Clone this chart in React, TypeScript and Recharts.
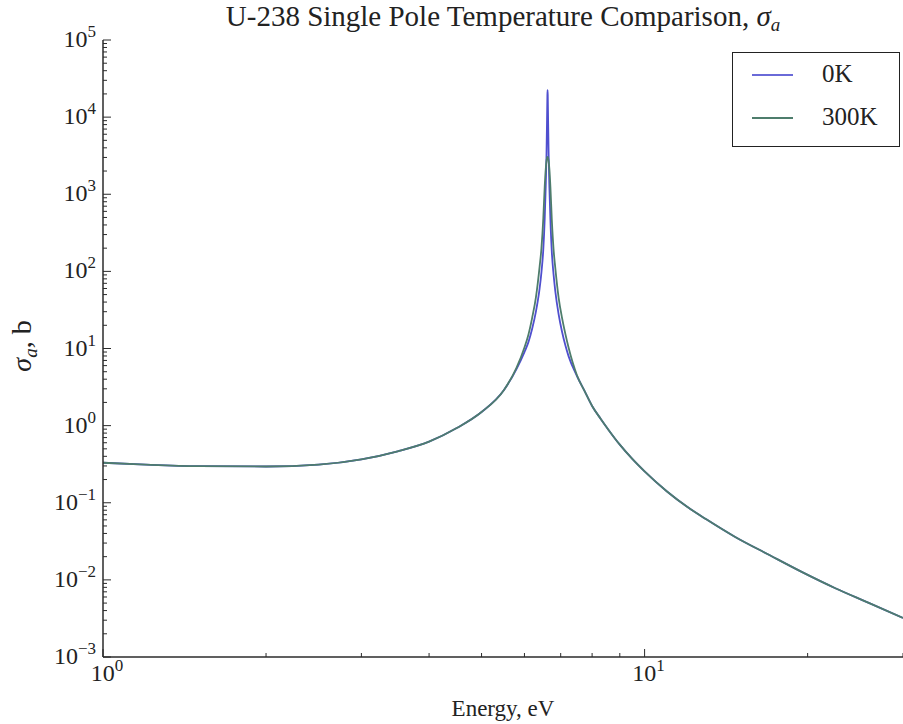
import React from 'react';
import { LineChart, Line, XAxis, YAxis } from 'recharts';

// energy grid, eV
const energy = [
  1.0, 1.2, 1.5, 2.0, 2.5, 3.0, 3.5, 4.0, 4.5, 5.0, 5.5, 5.8, 6.0, 6.1, 6.2, 6.3, 6.4, 6.45, 6.5, 6.54,
  6.57, 6.59, 6.605, 6.615, 6.62, 6.625, 6.635, 6.65, 6.67, 6.7, 6.74, 6.79, 6.84, 6.94, 7.04, 7.14, 7.24,
  7.5, 7.75, 8.0, 8.3, 8.6, 9.0, 9.5, 10, 11, 12, 13, 14.7, 17, 19.5, 22.5, 26, 30,
];

// sigma_a at 0K, barns
const sigma0K = [
  0.33, 0.312, 0.298, 0.295, 0.312, 0.365, 0.465, 0.62, 0.93, 1.5, 2.9, 5.4, 9.0, 12, 18, 30, 60, 98, 190, 480,
  1340, 3350, 9220, 19350, 22400, 19300, 9150, 3290, 1300, 470, 180, 92, 56, 27.5, 16.5, 11, 7.9,
  4.4, 2.8, 1.8, 1.22, 0.86, 0.566, 0.367, 0.255, 0.14, 0.088, 0.061, 0.036, 0.021, 0.0127, 0.0078, 0.005, 0.0032,
];

// sigma_a at 300K, barns
const sigma300K = [
  0.33, 0.312, 0.298, 0.295, 0.312, 0.365, 0.465, 0.62, 0.93, 1.5, 2.9, 5.6, 10.3, 15, 25, 46, 115, 200, 480, 1260,
  2160, 2700, 2950, 3040, 3050, 3040, 2950, 2690, 2150, 1250, 470, 195, 112, 45, 25, 15.5, 10.2,
  4.5, 2.8, 1.8, 1.22, 0.86, 0.566, 0.367, 0.255, 0.14, 0.088, 0.061, 0.036, 0.021, 0.0127, 0.0078, 0.005, 0.0032,
];

const xTicks = [1, 2, 3, 4, 5, 6, 7, 8, 9, 10, 20, 30];
const yDecades = [1e-3, 1e-2, 1e-1, 1, 10, 100, 1e3, 1e4, 1e5];
const yMinor = [2, 3, 4, 5, 6, 7, 8, 9];

const legendItems = [
  { name: '0K', color: '#6a6ad8' },
  { name: '300K', color: '#4e7d6c' },
];

const data = energy.map((e, i) => ({ e, k0: sigma0K[i], k300: sigma300K[i] }));
const yTicks = yDecades.flatMap((d, i) => (i < yDecades.length - 1 ? [d, ...yMinor.map((m) => d * m)] : [d]));

const FONT = '"Liberation Serif", serif';
const AXIS = '#2b2b2b';

const isMajor = (v: number) => Math.abs(Math.log10(v) - Math.round(Math.log10(v))) < 1e-6;
const expOf = (v: number) => {
  const n = Math.round(Math.log10(v));
  return n < 0 ? '\u2212' + Math.abs(n) : String(n);
};

const BottomTick = (props: any) => {
  const { x, y, payload } = props;
  const major = isMajor(payload.value);
  return (
    <g>
      <line x1={x} x2={x} y1={y} y2={y - (major ? 8 : 4)} stroke={AXIS} strokeWidth={1} />
      {major && (
        <text x={x + 4} y={y + 24} textAnchor="middle" fontFamily={FONT} fontSize={24} fill="#222">
          10<tspan dy={-10} fontSize={17}>{expOf(payload.value)}</tspan>
        </text>
      )}
    </g>
  );
};

const TopTick = (props: any) => {
  const { x, y, payload } = props;
  const major = isMajor(payload.value);
  return <line x1={x} x2={x} y1={y} y2={y + (major ? 8 : 4)} stroke={AXIS} strokeWidth={1} />;
};

const LeftTick = (props: any) => {
  const { x, y, payload } = props;
  const major = isMajor(payload.value);
  return (
    <g>
      <line x1={x} x2={x + (major ? 8 : 4)} y1={y} y2={y} stroke={AXIS} strokeWidth={1} />
      {major && (
        <text x={x - 7} y={y + 7} textAnchor="end" fontFamily={FONT} fontSize={24} fill="#222">
          10<tspan dy={-10} fontSize={17}>{expOf(payload.value)}</tspan>
        </text>
      )}
    </g>
  );
};

const YLabel = () => (
  <text
    x={0}
    y={0}
    transform="translate(31, 346) rotate(-90)"
    textAnchor="middle"
    fontFamily={FONT}
    fontSize={28}
    fill="#222"
  >
    <tspan fontStyle="italic">σ</tspan>
    <tspan fontStyle="italic" fontSize={19} dy={6}>a</tspan>
    <tspan dy={-6}>, b</tspan>
  </text>
);

const LegendBox = () => (
  <div
    style={{
      position: 'absolute',
      left: 732,
      top: 52,
      width: 168,
      height: 95,
      border: '1.5px solid #222',
      background: '#fff',
      boxSizing: 'border-box',
      fontFamily: FONT,
      fontSize: 25,
      color: '#222',
    }}
  >
    {legendItems.map((it, i) => (
      <div key={it.name}>
        <div
          style={{
            position: 'absolute',
            left: 19,
            top: 21 + i * 43,
            width: 41,
            height: 2,
            background: it.color,
          }}
        />
        <div style={{ position: 'absolute', left: 89, top: 5 + i * 43, lineHeight: '32px' }}>{it.name}</div>
      </div>
    ))}
  </div>
);

export default function App() {
  return (
    <div style={{ position: 'absolute', left: 0, top: 0, width: 903, height: 724, background: '#fff' }}>
      <LineChart width={903} height={724} data={data} margin={{ top: 40, right: 0, bottom: 0, left: 0 }}>
        <XAxis
          dataKey="e"
          type="number"
          scale="log"
          domain={[1, 30]}
          allowDataOverflow
          ticks={xTicks}
          interval={0}
          tick={<BottomTick />}
          tickLine={false}
          tickSize={0}
          tickMargin={0}
          height={67}
          axisLine={{ stroke: AXIS, strokeWidth: 1.5 }}
          label={{ value: 'Energy, eV', position: 'insideBottom', offset: 8, fontFamily: FONT, fontSize: 23, fill: '#222' }}
        />
        <XAxis
          xAxisId="top"
          orientation="top"
          dataKey="e"
          type="number"
          scale="log"
          domain={[1, 30]}
          allowDataOverflow
          ticks={xTicks}
          interval={0}
          tick={<TopTick />}
          tickLine={false}
          tickSize={0}
          tickMargin={0}
          height={0}
          axisLine={{ stroke: AXIS, strokeWidth: 1.5 }}
        />
        <YAxis
          type="number"
          scale="log"
          domain={[1e-3, 1e5]}
          allowDataOverflow
          ticks={yTicks}
          interval={0}
          tick={<LeftTick />}
          tickLine={false}
          tickSize={0}
          tickMargin={0}
          width={103}
          axisLine={{ stroke: AXIS, strokeWidth: 1.5 }}
          label={{ content: <YLabel /> }}
        />
        <Line
          dataKey="k0"
          name="0K"
          type="monotone"
          stroke="#4f4fcf"
          strokeWidth={1.8}
          dot={false}
          activeDot={false}
          isAnimationActive={false}
        />
        <Line
          dataKey="k300"
          name="300K"
          type="monotone"
          stroke="#4e7d6c"
          strokeWidth={1.8}
          dot={false}
          activeDot={false}
          isAnimationActive={false}
        />
      </LineChart>
      <div
        style={{
          position: 'absolute',
          left: 103,
          width: 800,
          top: 0,
          textAlign: 'center',
          fontFamily: FONT,
          fontSize: 29,
          color: '#222',
        }}
      >
        U-238 Single Pole Temperature Comparison, <i>σ</i>
        <i style={{ fontSize: 19, position: 'relative', top: 5 }}>a</i>
      </div>
      <LegendBox />
    </div>
  );
}
